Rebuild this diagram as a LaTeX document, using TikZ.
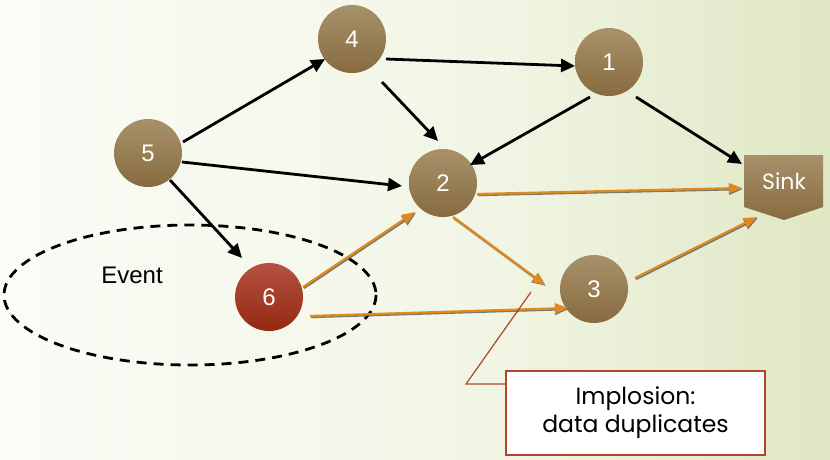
\documentclass[tikz,border=0pt]{standalone}
\usepackage{fontspec}
\setmainfont{Liberation Sans}
\newfontfamily\geofont{Poppins}
\usetikzlibrary{arrows.meta,calc}
\definecolor{bgL}{HTML}{FBFCF7}
\definecolor{bgM}{HTML}{F1F5E4}
\definecolor{bgR}{HTML}{DFE7C4}
\definecolor{nodeT}{HTML}{A8916A}
\definecolor{nodeB}{HTML}{876B40}
\definecolor{redT}{HTML}{B45242}
\definecolor{redB}{HTML}{952911}
\definecolor{orng}{HTML}{E08A1E}
\definecolor{callline}{HTML}{B0452A}
\pgfdeclarehorizontalshading{bgshade}{100bp}{color(0bp)=(bgL); color(25bp)=(bgL); color(55bp)=(bgM); color(75bp)=(bgR); color(100bp)=(bgR)}
\tikzset{
  vnode/.style={circle,minimum size=68pt,inner sep=0pt,top color=nodeT,bottom color=nodeB,
    text=white,font=\fontsize{24}{24}\selectfont},
  rnode/.style={vnode,top color=redT,bottom color=redB},
  blk/.style={line width=2.8pt,black,-{Triangle[length=14pt,width=13pt]}},
  orshadow/.style={line width=2.6pt,black!65,-{Triangle[length=14pt,width=11pt]},opacity=0.8},
  orline/.style={line width=2.2pt,orng,-{Triangle[length=13pt,width=10pt]}},
}
\newcommand\orarrow[4]{%
  \draw[orshadow,transform canvas={shift={(0.9pt,-0.9pt)}}] ($(#1)+(#2)$) -- ($(#3)+(#4)$);
  \draw[orline] ($(#1)+(#2)$) -- ($(#3)+(#4)$);}
\begin{document}
\begin{tikzpicture}[x=1pt,y=-1pt]
\useasboundingbox (0,0) rectangle (830,459);
\shade[shading=bgshade] (0,0) rectangle (830,459);
% event ellipse
\draw[line width=2.8pt,dash pattern=on 10pt off 7pt] (190,295) ellipse [x radius=186,y radius=70];
\node[font=\fontsize{24}{24}\selectfont] (event) at (132,275) {Event};
% nodes
\node[vnode] (n4) at (352,39) {4};
\node[vnode] (n1) at (609,62) {1};
\node[vnode] (n5) at (148,153) {5};
\node[vnode] (n2) at (443,183) {2};
\node[rnode] (n6) at (269,297) {6};
\node[vnode] (n3) at (594,289) {3};
% sink
\coordinate (sink) at (784,181);
\shade[top color=nodeT,bottom color=nodeB] ($(sink)+(-40,-26)$) -- ($(sink)+(39,-26)$) -- ($(sink)+(39,26)$) -- ($(sink)+(0,39)$) -- ($(sink)+(-40,26)$) -- cycle;
\node[text=white,font=\geofont\fontsize{22}{22}\selectfont] (sinktxt) at (sink) {Sink};
% black arrows
\draw[blk] ($(n5)+(35,-11)$) -- ($(n4)+(-27,20)$);
\draw[blk] ($(n4)+(34,20)$) -- ($(n1)+(-34,4)$);
\draw[blk] ($(n4)+(30,43)$) -- ($(n2)+(-5,-42)$);
\draw[blk] ($(n5)+(34,9)$) -- ($(n2)+(-41,3)$);
\draw[blk] ($(n1)+(-19,35)$) -- ($(n2)+(27,-18)$);
\draw[blk] ($(n1)+(27,35)$) -- ($(sink)+(-42,-17)$);
\draw[blk] ($(n5)+(22,27)$) -- ($(n6)+(-27,-39)$);
% orange arrows
\orarrow{n2}{34,11}{sink}{-42,7}
\orarrow{n6}{34,-10}{n2}{-28,29}
\orarrow{n6}{41,19}{n3}{-26,19}
\orarrow{n2}{10,34}{n3}{-49,-4}
\orarrow{n3}{41,-11}{sink}{-27,36}
% callout
\node[draw=callline,line width=1.4pt,fill=white,minimum width=259pt,minimum height=84pt,inner sep=0pt,
  align=center,font=\geofont\fontsize{23.5}{28}\selectfont] (call) at (635.5,413) {Implosion:\\data duplicates};
\coordinate (callpt) at (531,292);
\coordinate (callknee) at (466,384);
\draw[callline,line width=1.2pt] (callpt) -- (callknee) -- (call.west |- callknee);
\end{tikzpicture}
\end{document}
